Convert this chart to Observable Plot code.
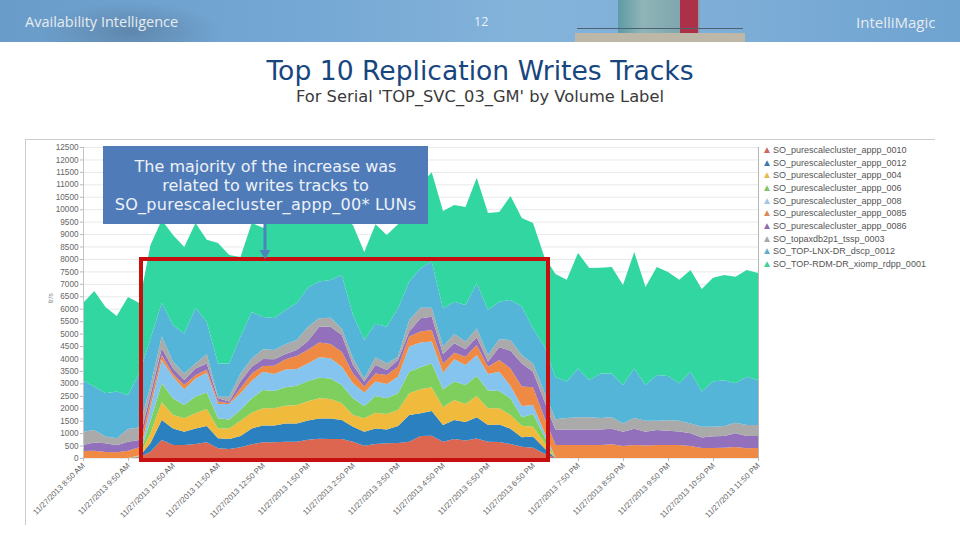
<!DOCTYPE html>
<html><head><meta charset="utf-8">
<script src="https://cdn.jsdelivr.net/npm/d3@7"></script>
<script src="https://cdn.jsdelivr.net/npm/@observablehq/plot@0.6"></script>
<style>
html,body{margin:0;padding:0;background:#fff;width:960px;height:540px;overflow:hidden;font-family:"DejaVu Sans",sans-serif}
.abs{position:absolute}
#band{left:0;top:0;width:960px;height:42px;background:radial-gradient(ellipse 90px 30px at 130px 32px,#5f87ad 0%,rgba(95,135,173,0) 100%),linear-gradient(90deg,#6a9cc9 0%,#74a7d4 30%,#84b3da 55%,#7eaed8 75%,#6fa3d0 100%);overflow:hidden}
#panel{left:25px;top:139px;width:910px;height:386px;border-left:1px solid #ccc;border-top:1px solid #ccc;box-sizing:border-box}
#chart{left:0;top:0}
#title{left:0;top:54px;width:960px;text-align:center;font-size:26.6px;color:#17467f;line-height:34px}
#subtitle{left:0;top:87px;width:960px;text-align:center;font-size:16.3px;color:#3a3a3a;line-height:20px}
#note{left:103px;top:146px;width:325px;height:78px;background:#4f7cb9;color:#eef1f7;font-size:16px;line-height:19px;text-align:center;box-sizing:border-box;padding-top:11px}
#frame{left:139px;top:257px;width:411px;height:205px;border:4.5px solid #c70f0f;box-sizing:border-box}
#legend{left:762px;top:144px;font-family:"Liberation Sans",sans-serif;font-size:9px;color:#555;line-height:12.65px;white-space:nowrap}
#legend span{display:inline-block;width:11px;font-size:10px;line-height:10px}
</style></head><body>
<div id="band" class="abs">
  <div class="abs" style="left:618px;top:0;width:62px;height:33px;background:linear-gradient(90deg,#5f9aa6,#8fb5b8 40%,#7ea6ad)"></div>
  <div class="abs" style="left:680px;top:0;width:18px;height:33px;background:#ab3048"></div>
  <div class="abs" style="left:698px;top:0;width:2px;height:33px;background:#8aa0b0"></div>
  <div class="abs" style="left:575px;top:33px;width:170px;height:9px;background:#bdb7a8"></div>
  <div class="abs" style="left:577px;top:28px;width:166px;height:1px;background:#4d6270"></div>
  <div class="abs" style="left:25px;top:12px;font:14.5px 'Open Sans',sans-serif;color:#e6ebf0">Availability Intelligence</div>
  <div class="abs" style="left:474px;top:13px;font:12.5px 'Open Sans',sans-serif;color:#eef2f6">12</div>
  <div class="abs" style="left:856px;top:12px;font:15px 'Open Sans',sans-serif;color:#e6ebf0">IntelliMagic</div>
</div>
<div id="title" class="abs">Top 10 Replication Writes Tracks</div>
<div id="subtitle" class="abs">For Serial 'TOP_SVC_03_GM' by Volume Label</div>
<div id="panel" class="abs"></div>
<div id="chart" class="abs"></div>
<div id="legend" class="abs"></div>
<div id="frame" class="abs"></div>
<div id="note" class="abs">The majority of the increase was<br>related to writes tracks to<br><span style="letter-spacing:.27px">SO_purescalecluster_appp_00* LUNs</span></div>
<svg class="abs" style="left:255px;top:222px" width="20" height="38"><path d="M8.5 2h3v26h4l-5.5 9l-5.5-9h4z" fill="#4a86b8"/></svg>
<script>
// Sample times: every 15 minutes on 11/27/2013, from 8:50 AM
const startMinutes = 8 * 60 + 50;
const stepMinutes = 15;
const sampleCount = 61;
const tickLabelsEvery = 4;

const seriesNames = [
  "SO_purescalecluster_appp_0010","SO_purescalecluster_appp_0012","SO_purescalecluster_appp_004",
  "SO_purescalecluster_appp_006","SO_purescalecluster_appp_008","SO_purescalecluster_appp_0085",
  "SO_purescalecluster_appp_0086","SO_topaxdb2p1_tssp_0003","SO_TOP-LNX-DR_dscp_0012","SO_TOP-RDM-DR_xiomp_rdpp_0001"
];
const seriesColors = ["#dc6650","#2b81c0","#f0ba3c","#7fcf5e","#85c4ef","#ef8a45","#9270bb","#aaaaaa","#55b5d9","#31d6a0"];
const legendColors = ["#c9685c","#3a78ad","#e9bb55","#85c46c","#9fc6e6","#d98a5d","#8a6fae","#a8a8a8","#63aec9","#3fcfa2"];

// Upper edge of each stacked layer (tracks/s)
const top0010 = [0,0,0,0,0,30,250,720,520,520,560,630,390,360,430,550,630,630,650,650,730,770,760,760,650,495,560,590,600,650,880,890,650,760,700,780,650,640,560,455,416,180,0,0,0,0,0,0,0,0,0,0,0,0,0,0,0,0,0,0,0];
const top0012 = [0,0,0,0,0,50,600,1530,1190,1060,1190,1290,790,760,880,1190,1310,1310,1390,1390,1510,1590,1590,1530,1260,1060,1190,1150,1290,1730,1800,1890,1330,1530,1450,1640,1330,1350,1180,830,860,400,0,0,0,0,0,0,0,0,0,0,0,0,0,0,0,0,0,0,0];
const top004 = [0,0,0,0,0,70,1000,2240,1730,1600,1800,1970,1190,1190,1500,1820,2000,2000,2100,2130,2280,2400,2370,2200,1730,1600,1820,1770,1930,2600,2760,2840,2040,2330,2170,2490,2000,2000,1730,1300,1260,620,0,0,0,0,0,0,0,0,0,0,0,0,0,0,0,0,0,0,0];
const top006 = [0,0,0,0,0,90,1500,3000,2400,2130,2470,2630,1600,1550,1930,2400,2730,2690,2840,2900,3090,3230,3200,2930,2400,2090,2490,2400,2600,3470,3650,3800,2760,3070,2930,3300,2710,2690,2400,1640,1770,880,0,0,0,0,0,0,0,0,0,0,0,0,0,0,0,0,0,0,0];
const top008 = [0,0,0,0,0,110,2050,3940,3270,2760,3200,3430,2170,2170,2600,3100,3470,3380,3560,3580,3800,4050,4010,3670,3000,2630,3070,2975,3270,4480,4640,4680,3430,3970,3740,4140,3380,3470,2895,2090,2130,1060,0,0,0,0,0,0,0,0,0,0,0,0,0,0,0,0,0,0,0];
const top0085 = [282,295,240,230,295,430,2300,4140,3380,2940,3330,3560,2270,2200,2800,3400,3700,3710,3970,4100,4350,4640,4580,4275,3400,2870,3400,3340,3670,4880,5080,5146,3800,4235,4070,4545,3670,3940,3600,2870,2840,1650,520,520,520,520,520,550,480,520,500,520,520,520,480,400,400,416,440,390,400];
const top0086 = [525,620,590,510,657,720,2550,4410,3600,3140,3600,3800,2400,2270,3070,3670,3980,3970,4180,4340,4700,5280,5280,4945,3740,3070,3740,3540,3940,5080,5615,5680,4180,4610,4370,4850,3870,4450,4315,3800,3470,2300,1126,1150,1150,1150,1150,1180,1060,1180,1060,1126,1100,1070,990,820,870,885,990,885,885];
const top0003 = [1060,1126,860,790,1166,1230,2900,4880,3870,3400,3800,4180,2460,2460,3400,4000,4370,4340,4570,4740,5280,5615,5640,5200,4000,3200,4050,3800,4070,5550,6040,6040,4480,4985,4680,5200,4140,4770,4740,4140,3800,2650,1555,1610,1635,1635,1610,1635,1390,1610,1500,1500,1515,1500,1390,1260,1260,1290,1420,1330,1330];
const topLnx = [3100,2870,2600,2670,2530,3400,4800,6230,5350,5000,6030,5470,3800,3800,4880,5870,5670,5630,5950,6230,6850,7090,7150,7360,5750,4740,5400,5280,6010,7090,7625,7890,6010,6285,6150,7020,5950,6285,6350,6085,5200,4500,3250,3070,3600,3130,3400,3400,2930,3600,2930,3340,3300,3000,3470,2670,3070,3130,3000,3270,3130];
const topRdm = [6230,6710,6070,5710,6470,6230,8560,9570,8960,8480,9450,8770,8640,8160,8080,9450,9250,9700,10000,10200,10300,10400,10300,9800,9350,8280,9400,8960,9400,10300,11000,11490,9930,10170,10090,11260,9850,9890,10530,9650,9450,8100,7400,7160,8240,7640,7650,7680,6950,8280,6870,7680,7480,7160,7560,6790,7240,7360,7280,7560,7440];
const layerTops = [top0010,top0012,top004,top006,top008,top0085,top0086,top0003,topLnx,topRdm];

const timeAt = i => new Date(Date.UTC(2013, 10, 27, 0, startMinutes + i * stepMinutes));
const rows = [];
layerTops.forEach((tops, s) => tops.forEach((v, i) => rows.push({
  series: seriesNames[s], t: timeAt(i), lo: s ? layerTops[s - 1][i] : 0, hi: v
})));
const xTicks = d3.range(0, sampleCount, tickLabelsEvery).map(timeAt);
const yTicks = d3.range(0, 12501, 500);
const fmt = d => `11/27/2013 ${d3.utcFormat("%-I:%M %p")(d)}`;

const chart = Plot.plot({
  width: 960, height: 540,
  marginLeft: 83, marginRight: 202, marginTop: 147, marginBottom: 82,
  style: {background: "transparent", fontFamily: "'Liberation Sans',sans-serif"},
  x: {type: "utc", domain: [timeAt(0), timeAt(sampleCount - 1)]},
  y: {domain: [0, 12500]},
  color: {domain: seriesNames, range: seriesColors},
  marks: [
    Plot.ruleY(yTicks, {stroke: "#e9e9e9", strokeWidth: 1}),
    Plot.areaY(rows, {x: "t", y1: "lo", y2: "hi", z: "series", fill: "series", curve: "linear"}),
    Plot.ruleX([timeAt(0)], {stroke: "#c4c4c4"}),
    Plot.ruleX([timeAt(sampleCount - 1)], {stroke: "#b5b5b5"}),
    Plot.axisY({ticks: yTicks, tickFormat: d3.format("d"), tickSize: 3, tickPadding: 2, fontSize: 8.2, stroke: "#bbb", fill: "#666", label: null}),
    Plot.axisX({ticks: xTicks, tickFormat: fmt, tickRotate: -45, tickSize: 3, tickPadding: 3, fontSize: 7.8, stroke: "#bbb", fill: "#666", label: null}),
    Plot.text(["tr/s"], {frameAnchor: "left", dx: -33, rotate: -90, fontSize: 7, fill: "#888"})
  ]
});
document.getElementById("chart").appendChild(chart);

document.getElementById("legend").innerHTML = seriesNames.map((n, i) =>
  `<div><span style="color:${legendColors[i]}">▲</span>${n}</div>`).join("");
</script>
</body></html>
